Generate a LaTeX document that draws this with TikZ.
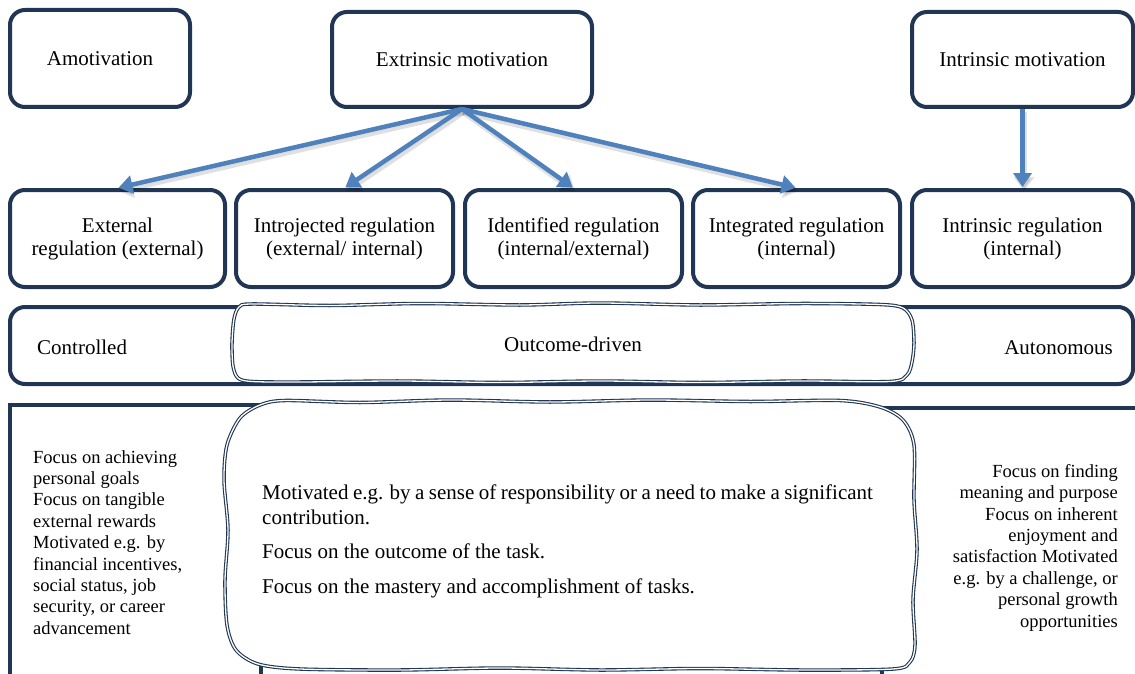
\documentclass[tikz,border=0pt]{standalone}
\usepackage{fontspec}
\setmainfont{Liberation Serif}
\usetikzlibrary{arrows.meta}
\definecolor{navy}{RGB}{32,54,84}
\definecolor{arrblue}{RGB}{79,129,189}
\begin{document}
\begin{tikzpicture}[x=1pt,y=-1pt,
  box/.style={draw=navy, line width=4pt, rounded corners=15pt, fill=white, inner sep=0pt, align=center, font=\fontsize{21}{23}\selectfont},
  sqbox/.style={draw=navy, line width=4pt, fill=white, inner sep=0pt},
  wavy/.style={draw=navy, line width=1.1pt, double=white, double distance=1.3pt, fill=white},
  arr/.style={draw=arrblue, line width=4.5pt, -{Triangle[length=14pt,width=18pt]}},
  shad/.style={draw=black, draw opacity=0.12, line width=6pt, -{Triangle[length=14pt,width=20pt]}, fill opacity=0.12, fill=black,
    transform canvas={shift={(1.5pt,-3pt)}}},
  lbl/.style={inner sep=0pt, font=\fontsize{21}{23}\selectfont},
  side/.style={inner sep=0pt, font=\fontsize{18.5}{21.4}\selectfont}
]
\useasboundingbox (0,0) rectangle (1135,674);

% top row
\node[box, minimum width=180pt, minimum height=97pt] (amot) at (100,58.5) {Amotivation};
\node[box, minimum width=260pt, minimum height=95pt] (extr) at (462,59.5) {Extrinsic motivation};
\node[box, minimum width=221pt, minimum height=95pt] (intr) at (1022.5,59.5) {Intrinsic motivation};

% second row
\node[box, minimum width=215pt, minimum height=97pt] (ext) at (117.5,238.5) {External\\regulation (external)};
\node[box, minimum width=217pt, minimum height=97pt] (intro) at (344.5,238.5) {Introjected regulation\\(external/ internal)};
\node[box, minimum width=217pt, minimum height=97pt] (ident) at (573.5,238.5) {Identified regulation\\(internal/external)};
\node[box, minimum width=207pt, minimum height=97pt] (integ) at (796.5,238.5) {Integrated regulation\\(internal)};
\node[box, minimum width=221pt, minimum height=97pt] (intreg) at (1022.5,238.5) {Intrinsic regulation\\(internal)};

% arrows
\draw[shad] (extr.south) -- (ext.north);
\draw[shad] (extr.south) -- (intro.north);
\draw[shad] (extr.south) -- (ident.north);
\draw[shad] (extr.south) -- (integ.north);
\draw[shad] (intr.south) -- (intreg.north);
\draw[arr, shorten >=1pt] (extr.south) -- (ext.north);
\draw[arr, shorten >=1pt] (extr.south) -- (intro.north);
\draw[arr, shorten >=1pt] (extr.south) -- (ident.north);
\draw[arr, shorten >=1pt] (extr.south) -- (integ.north);
\draw[arr, shorten >=1pt] (intr.south) -- (intreg.north);

% third row
\node[box, minimum width=1123pt, minimum height=77pt] (band) at (571.5,345.5) {};
\node[lbl, anchor=west] (ctrl) at (37,347) {Controlled};
\node[lbl, anchor=east] (auton) at (1113,348) {Autonomous};
\draw[wavy] plot[smooth cycle, tension=0.5] coordinates {
  (252,304) (330,305.5) (420,303.5) (520,305) (600,303) (700,305) (800,303.5) (880,304.5)
  (903,308) (912,320) (914,343) (912,362) (907,375) (890,381.5)
  (800,381) (700,382.5) (600,381) (500,382.5) (400,381) (300,382) (252,381.5)
  (238,378) (233,366) (232,343) (234,319) (239,307)};
\node[lbl] (outc) at (573,344) {Outcome-driven};

% fourth row
\node[sqbox, minimum width=251pt, minimum height=271pt] (lbox) at (135.5,540.5) {};
\node[sqbox, minimum width=270pt, minimum height=272pt] (rbox) at (1017,544) {};
\draw[wavy] plot[smooth cycle, tension=0.5] coordinates {
  (285,400.5) (360,402.5) (450,400) (550,402) (650,400) (750,401.5) (840,400.5)
  (880,407) (903,420) (914,445)
  (914,500) (917,550) (913,600) (915,645)
  (910,662) (893,669)
  (800,670) (700,668.5) (600,670) (500,668) (400,670) (300,669)
  (258,664) (236,650) (227,625)
  (225,580) (228,530) (224,480) (227,445)
  (240,418) (260,405)};

\node[side, anchor=north west, align=left] (ltext) at (33,450)
  {Focus on achieving\\personal goals\\Focus on tangible\\external rewards\\Motivated e.g. by\\financial incentives,\\social status, job\\security, or career\\advancement};
\node[side, anchor=north east, align=right] (rtext) at (1118,464)
  {Focus on finding\\meaning and purpose\\Focus on inherent\\enjoyment and\\satisfaction Motivated\\e.g. by a challenge, or\\personal growth\\opportunities};
\node[inner sep=0pt, anchor=north west, align=left, font=\fontsize{21}{25}\selectfont] (mtext) at (262,485)
  {{\spaceskip=4.5pt Motivated e.g. by a sense of responsibility or a need to make a significant}\\contribution.\\[9pt]Focus on the outcome of the task.\\[10pt]Focus on the mastery and accomplishment of tasks.};
\end{tikzpicture}
\end{document}
